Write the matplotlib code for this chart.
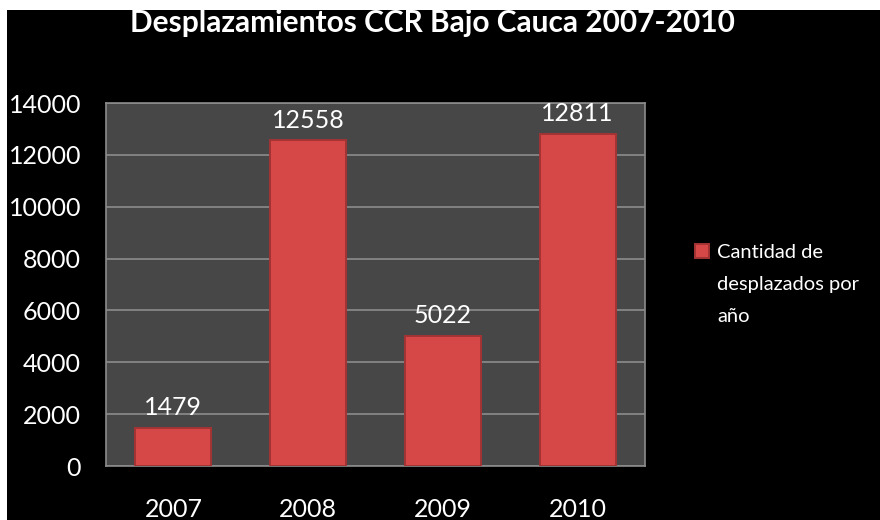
import matplotlib.pyplot as plt
from matplotlib.patches import Rectangle, Patch

years = ['2007', '2008', '2009', '2010']
desplazados = [1479, 12558, 5022, 12811]
y_ticks = [0, 2000, 4000, 6000, 8000, 10000, 12000, 14000]
legend_lines = ['Cantidad de', 'desplazados por', 'año']

plt.rcParams['font.family'] = ['Lato', 'DejaVu Sans']

fig = plt.figure(figsize=(8.8, 5.2), dpi=100, facecolor='black')
# thin white strips at the top and left of the original image
fig.patches.append(Rectangle((0, 0.981), 1, 0.019, transform=fig.transFigure,
                             facecolor='white', edgecolor='none'))
fig.patches.append(Rectangle((0, 0), 0.008, 1, transform=fig.transFigure,
                             facecolor='white', edgecolor='none'))

ax = fig.add_axes([0.1205, 0.1038, 0.6125, 0.698])
ax.set_facecolor('#474747')

bars = ax.bar(years, desplazados, width=0.565, color='#D64848',
              edgecolor='#A33434', linewidth=1.4, zorder=3)

# data labels
for rect, val in zip(bars, desplazados):
    ax.text(rect.get_x() + rect.get_width() / 2, val + 330, str(val),
            ha='center', va='bottom', color='white', fontsize=18)

ax.set_ylim(0, 14000)
ax.set_xlim(-0.5, 3.5)
ax.set_yticks(y_ticks)
ax.yaxis.grid(True, color='#8C8C8C', linewidth=1.2, zorder=0)
ax.set_axisbelow(True)

ax.tick_params(axis='y', colors='white', labelsize=18, length=0, pad=18)
ax.tick_params(axis='x', colors='white', labelsize=18, length=0, pad=23)
for s in ax.spines.values():
    s.set_color('#8C8C8C')
    s.set_linewidth(1.2)

fig.text(0.491, 0.955, 'Desplazamientos CCR Bajo Cauca 2007-2010',
         ha='center', va='center', color='white', fontsize=21.5, fontweight='bold')

# legend: one label split over three lines, marker next to the first one
blank = Patch(facecolor='none', edgecolor='none')
leg = fig.legend([bars[0], blank, blank], legend_lines, loc='upper left',
                 bbox_to_anchor=(0.778, 0.55), frameon=False, fontsize=14.5,
                 handlelength=0.72, handleheight=0.72, handletextpad=0.4,
                 labelspacing=0.72, labelcolor='white', borderpad=0)

fig.savefig('out.png', dpi=100, facecolor='black')
